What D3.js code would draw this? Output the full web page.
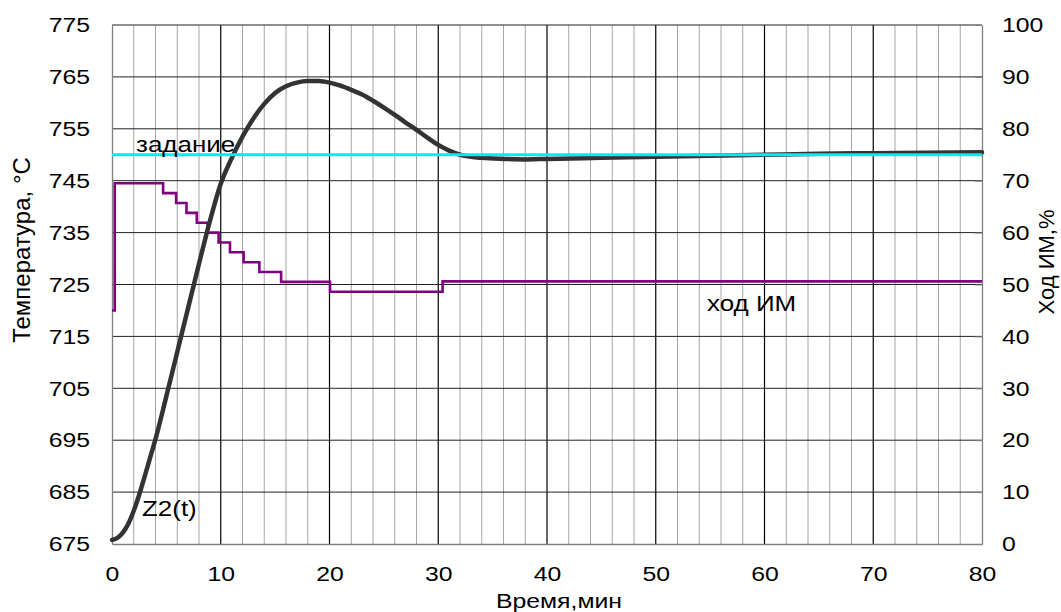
<!DOCTYPE html>
<html><head><meta charset="utf-8">
<script src="https://cdn.jsdelivr.net/npm/d3@7"></script>
<style>
body{margin:0;background:#fff}
svg text{font-family:"Liberation Sans",Arial,sans-serif;fill:#000}
</style>
</head><body>
<svg id="chart" width="1061" height="612"></svg>
<script>
// ---- data ----
const timeZ = [0,0.5,1,1.5,2,2.5,3,3.5,4,5,6,7,8,9,10,11,12,13,14,15,16,17,18,19,20,21,22,23,24,25,26,27,28,29,30,31,32,33,34,36,38,40,45,50,55,60,65,70,75,80];
const tempZ = [675.8,676.2,677.2,678.9,681.4,684.5,688.0,691.6,695.2,703.5,712.0,720.5,729.0,737.2,744.4,749.3,753.5,757.0,759.8,761.9,763.2,763.9,764.2,764.2,763.9,763.3,762.5,761.6,760.4,759.1,757.7,756.2,754.8,753.3,751.9,750.8,750.0,749.6,749.4,749.2,749.1,749.2,749.4,749.6,749.8,750.0,750.2,750.3,750.4,750.5];
const timeIM = [0,0.25,4.7,5.9,6.85,7.8,8.8,9.8,10.85,12.1,13.55,15.55,20.05,30.4,80];
const valIM  = [45,69.5,67.6,65.7,63.8,61.9,60.0,58.1,56.2,54.3,52.4,50.5,48.6,50.6,50.6];
const setpoint = [750, 750];
const setpointTime = [0, 80];
const xTicks = [0,10,20,30,40,50,60,70,80];
const yLeftTicks = [675,685,695,705,715,725,735,745,755,765,775];
const yRightTicks = [0,10,20,30,40,50,60,70,80,90,100];
const xMinor = [2,4,6,8,12,14,16,18,22,24,26,28,32,34,36,38,42,44,46,48,52,54,56,58,62,64,66,68,72,74,76,78];

// ---- layout ----
const L = 112, R = 982, T = 25, B = 544;
const SX = 1.18; // horizontal text widening
const svg = d3.select("#chart");
const x = d3.scaleLinear().domain([0,80]).range([L,R]);
const yL = d3.scaleLinear().domain([675,775]).range([B,T]);
const yR = d3.scaleLinear().domain([0,100]).range([B,T]);

const grid = svg.append("g");
grid.selectAll("line.minor").data(xMinor).join("line")
  .attr("x1", d=>x(d)).attr("x2", d=>x(d)).attr("y1", T).attr("y2", B)
  .attr("stroke", "#a6a6a6").attr("stroke-width", 1);
grid.selectAll("line.major").data(xTicks.slice(1,-1)).join("line")
  .attr("x1", d=>x(d)).attr("x2", d=>x(d)).attr("y1", T).attr("y2", B)
  .attr("stroke", "#000").attr("stroke-width", 1.2);
grid.selectAll("line.h").data(yLeftTicks.slice(1)).join("line")
  .attr("x1", L).attr("x2", R).attr("y1", d=>yL(d)).attr("y2", d=>yL(d))
  .attr("stroke", "#222").attr("stroke-width", 1);

// axes
const axL = svg.append("g").attr("transform", `translate(${L},0)`)
  .call(d3.axisLeft(yL).tickValues(yLeftTicks).tickSize(0).tickPadding(22));
const axB = svg.append("g").attr("transform", `translate(0,${B})`)
  .call(d3.axisBottom(x).tickValues(xTicks).tickSize(0).tickPadding(22));
const axR = svg.append("g").attr("transform", `translate(${R},0)`)
  .call(d3.axisRight(yR).tickValues(yRightTicks).tickSizeInner(-7).tickSizeOuter(0).tickPadding(20));
[axL, axB, axR].forEach(a => {
  a.select(".domain").attr("stroke", "#808080").attr("stroke-width", 1.3);
  a.selectAll(".tick line").attr("stroke", "#808080");
  a.selectAll("text").attr("font-size", 21).attr("font-family", null)
    .attr("fill", "#000");
});
axL.selectAll("text").attr("x", -22/SX).attr("transform", `scale(${SX},1)`);
axR.selectAll("text").attr("x", 20/SX).attr("transform", `scale(${SX},1)`);
axB.selectAll("text").attr("transform", `scale(${SX},1)`);

// series
svg.append("path")
  .datum(timeIM.map((t,i)=>[t,valIM[i]]))
  .attr("fill","none").attr("stroke","#800080").attr("stroke-width",2.6)
  .attr("d", d3.line().x(d=>x(d[0])).y(d=>yR(d[1])).curve(d3.curveStepAfter));

svg.append("path")
  .datum(timeZ.map((t,i)=>[t,tempZ[i]]))
  .attr("fill","none").attr("stroke","#333").attr("stroke-width",4.5)
  .attr("stroke-linejoin","round").attr("stroke-linecap","round")
  .attr("d", d3.line().x(d=>x(d[0])).y(d=>yL(d[1])).curve(d3.curveMonotoneX));

svg.append("path")
  .datum(setpointTime.map((t,i)=>[t,setpoint[i]]))
  .attr("fill","none").attr("stroke","#00eeee").attr("stroke-width",3)
  .attr("d", d3.line().x(d=>x(d[0])).y(d=>yL(d[1])));

// labels
function hText(txt, px, py, size, anchor){
  svg.append("text").text(txt)
    .attr("transform", `translate(${px},${py}) scale(${SX},1)`)
    .attr("font-size", size).attr("text-anchor", anchor || "start");
}
hText("задание", 136, 152, 22);
hText("Z2(t)", 142, 516, 22);
hText("ход ИМ", 707, 311, 22);
hText("Время,мин", 559, 608, 21, "middle");

svg.append("text").text("Температура, °С")
  .attr("transform", "translate(30,250) rotate(-90)")
  .attr("font-size", 24).attr("text-anchor", "middle");
svg.append("text").text("Ход ИМ,%")
  .attr("transform", "translate(1054,262) rotate(-90)")
  .attr("font-size", 22).attr("text-anchor", "middle");
</script>
</body></html>
